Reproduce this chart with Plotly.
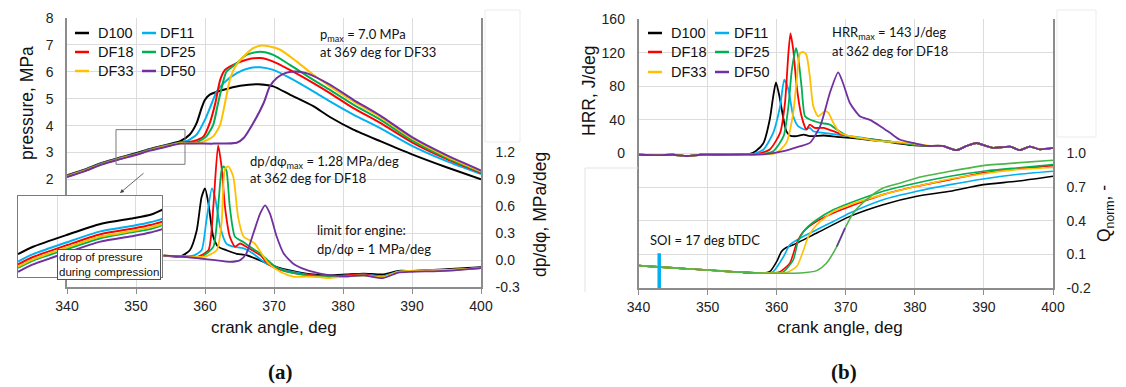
import plotly.graph_objects as go

# The page body has an 8 px default margin, so the figure is sized to fit the
# 1126x387 window minus that offset, and pixel positions are mapped accordingly.
W, H = 1126, 387
OFF = 8
FW, FH = W - OFF, H - OFF
def X(px): return (px - OFF) / FW
def Y(py): return 1 - (py - OFF) / FH

NAMES = ["D100", "DF11", "DF18", "DF25", "DF33", "DF50"]
COLORS = ["#000000", "#00B0F0", "#FF0000", "#00B050", "#FFC000", "#7030A0"]
Q50_GREEN = "#4FB548"
SOI_DEG_BTDC = 17

# ---------------- pressure, MPa (left panel, left axis) ----------------
P_D100_X = [340, 342.5, 345, 347.5, 350, 352, 354.5, 356.4, 357.8, 358.8, 359.5, 360.0, 360.7, 362.7, 365.1, 367.7, 369.9, 372.3, 375.7, 378.1, 381.5, 385.4, 390, 395, 400]
P_D100_Y = [2.15, 2.36, 2.61, 2.80, 2.97, 3.13, 3.29, 3.42, 3.67, 4.10, 4.65, 4.96, 5.15, 5.33, 5.48, 5.54, 5.46, 5.15, 4.72, 4.32, 3.85, 3.42, 2.93, 2.45, 2.00]
P_DF11_X = [340, 342.5, 345, 347.5, 350, 352, 354.5, 356.5, 357.5, 358.8, 360.0, 361.0, 361.7, 362.7, 364.6, 366.5, 368.0, 369.9, 372.3, 375.7, 378.1, 381.5, 385.4, 390, 395, 400]
P_DF11_Y = [2.13, 2.34, 2.59, 2.78, 2.95, 3.11, 3.27, 3.38, 3.44, 3.67, 4.22, 4.84, 5.27, 5.58, 5.95, 6.14, 6.17, 6.07, 5.77, 5.27, 4.90, 4.41, 3.91, 3.25, 2.68, 2.20]
P_DF18_X = [340, 342.5, 345, 347.5, 350, 352, 354.5, 356.5, 358.3, 359.8, 360.7, 361.5, 362.2, 362.9, 364.1, 366.0, 368.0, 369.9, 372.3, 375.7, 378.1, 381.5, 385.4, 390, 395, 400]
P_DF18_Y = [2.12, 2.33, 2.58, 2.77, 2.94, 3.10, 3.26, 3.36, 3.42, 3.60, 4.10, 4.84, 5.70, 6.07, 6.26, 6.45, 6.51, 6.38, 6.07, 5.58, 5.21, 4.65, 4.10, 3.38, 2.76, 2.24]
P_DF25_X = [340, 342.5, 345, 347.5, 350, 352, 354.5, 356.5, 358.8, 360.2, 361.2, 361.9, 362.7, 363.1, 364.6, 366.0, 368.0, 369.9, 372.3, 375.7, 378.1, 381.5, 385.4, 390, 395, 400]
P_DF25_Y = [2.11, 2.32, 2.57, 2.76, 2.93, 3.09, 3.25, 3.35, 3.38, 3.60, 4.04, 4.84, 5.70, 6.00, 6.32, 6.63, 6.75, 6.63, 6.26, 5.70, 5.33, 4.78, 4.22, 3.45, 2.80, 2.27]
P_DF33_X = [340, 342.5, 345, 347.5, 350, 352, 354.5, 356.5, 359.3, 361.2, 362.2, 362.9, 363.6, 364.4, 365.6, 367.0, 368.2, 369.4, 370.9, 373.3, 375.7, 378.1, 381.5, 385.4, 390, 395, 400]
P_DF33_Y = [2.10, 2.31, 2.56, 2.75, 2.92, 3.08, 3.24, 3.34, 3.36, 3.60, 4.04, 4.84, 5.70, 6.20, 6.57, 6.88, 6.98, 6.94, 6.82, 6.38, 5.89, 5.46, 4.90, 4.32, 3.52, 2.85, 2.30]
P_DF50_X = [340, 342.5, 345, 347.5, 350, 352, 354.5, 356.4, 361.2, 364.6, 365.6, 367.0, 368.5, 369.4, 370.4, 371.6, 373.0, 374.7, 378.1, 381.5, 385.4, 390, 395, 400]
P_DF50_Y = [2.09, 2.30, 2.55, 2.74, 2.91, 3.07, 3.22, 3.33, 3.33, 3.36, 3.54, 4.10, 4.84, 5.46, 5.77, 5.95, 6.01, 5.95, 5.52, 4.96, 4.37, 3.57, 2.90, 2.33]

# ---------------- dp/dphi, MPa/deg (left panel, right axis) ----------------
D_D100_X = [354, 356.4, 357.8, 358.8, 359.5, 360.0, 360.5, 361.2, 361.9, 363.1, 364.6, 366.0, 368.5, 370.9, 373.3, 375.7, 378.1, 380.5, 383.0, 385.8, 388, 390, 395, 400]
D_D100_Y = [0.05, 0.04, 0.11, 0.33, 0.70, 0.80, 0.63, 0.26, 0.15, 0.11, 0.07, 0.055, -0.02, -0.09, -0.13, -0.16, -0.17, -0.16, -0.15, -0.16, -0.12, -0.12, -0.10, -0.08]
D_DF11_X = [354, 356.5, 358.3, 359.5, 360.2, 361.0, 361.45, 362.2, 363.1, 364.1, 365.6, 367.0, 368.9, 371, 373.3, 375.7, 378.1, 380.5, 383, 385.8, 388, 390, 395, 400]
D_DF11_Y = [0.05, 0.04, 0.05, 0.11, 0.44, 0.80, 0.70, 0.37, 0.185, 0.15, 0.13, 0.07, -0.04, -0.10, -0.14, -0.17, -0.18, -0.17, -0.16, -0.18, -0.13, -0.12, -0.11, -0.09]
D_DF18_X = [354, 356.5, 359, 360.5, 361.2, 361.9, 362.4, 362.9, 363.6, 364.35, 365.1, 366.0, 368.0, 369.4, 371, 373.3, 375.7, 378.1, 380.5, 383, 385.8, 388, 390, 395, 400]
D_DF18_Y = [0.05, 0.04, 0.04, 0.11, 0.59, 1.28, 1.04, 0.59, 0.26, 0.15, 0.185, 0.148, 0.055, -0.056, -0.11, -0.15, -0.17, -0.19, -0.17, -0.16, -0.19, -0.13, -0.12, -0.11, -0.09]
D_DF25_X = [354, 356.5, 359.5, 361.2, 361.9, 362.4, 362.7, 363.1, 363.6, 364.35, 365.6, 366.5, 368.0, 369.9, 371.5, 373.3, 375.7, 378.1, 380.5, 383, 385.8, 388, 390, 395, 400]
D_DF25_Y = [0.05, 0.04, 0.04, 0.148, 0.59, 1.0, 1.044, 1.0, 0.59, 0.26, 0.20, 0.148, 0.074, -0.056, -0.12, -0.15, -0.18, -0.19, -0.18, -0.17, -0.19, -0.13, -0.12, -0.11, -0.09]
D_DF33_X = [354, 356.5, 360, 361.7, 362.4, 362.9, 363.4, 364.1, 364.8, 365.6, 366.5, 367.2, 368.2, 369.2, 370.9, 372.8, 374.7, 376.5, 378.1, 380.5, 383, 385.8, 388, 390, 395, 400]
D_DF33_Y = [0.05, 0.04, 0.04, 0.11, 0.41, 1.02, 1.044, 0.93, 0.48, 0.26, 0.22, 0.185, 0.074, -0.037, -0.13, -0.185, -0.185, -0.19, -0.20, -0.18, -0.17, -0.19, -0.13, -0.12, -0.11, -0.09]
D_DF50_X = [354, 356.5, 359.3, 361.5, 363.6, 365.1, 366.0, 367.0, 368.0, 368.7, 369.4, 370.4, 371.4, 372.8, 374.7, 376.7, 378.5, 380.5, 383, 385.8, 388, 390, 395, 400]
D_DF50_Y = [0.05, 0.04, 0.018, 0.0, -0.019, 0.0, 0.074, 0.296, 0.52, 0.61, 0.52, 0.26, 0.074, -0.04, -0.11, -0.15, -0.17, -0.18, -0.17, -0.20, -0.14, -0.13, -0.12, -0.09]

# ---------------- inset: drop of pressure during compression ----------------
INSET_X = [347.5, 348.46, 350.64, 352.76, 354.87, 355.96, 356.73]
INSET_D100 = [2.63, 2.76, 2.97, 3.16, 3.26, 3.32, 3.41]
INSET_DF11 = [2.50, 2.63, 2.84, 3.03, 3.13, 3.19, 3.25]
INSET_DF18 = [2.45, 2.58, 2.79, 2.98, 3.08, 3.14, 3.20]
INSET_DF25 = [2.39, 2.52, 2.72, 2.91, 3.02, 3.07, 3.14]
INSET_DF33 = [2.41, 2.54, 2.75, 2.94, 3.04, 3.10, 3.16]
INSET_DF50 = [2.32, 2.45, 2.66, 2.85, 2.95, 3.01, 3.07]

# ---------------- HRR, J/deg (right panel, left axis) ----------------
H_D100_X = [340, 343, 345, 347, 349, 352, 355, 356.1, 357.0, 358.1, 359.0, 359.5, 359.9, 360.4, 361.0, 361.4, 361.9, 362.9, 363.9, 364.8, 366.8, 368.7, 370.6, 373.0, 375.4, 377.5, 379.5, 381.7, 384, 386, 387.5, 388.9, 390.3, 391.3, 393.8, 395.2, 396.6, 398.1, 400]
H_D100_Y = [-1.5, -2, -1.5, -3, -1.5, -1.5, -1, -0.5, 3, 12.6, 40.4, 68, 84.7, 68, 40.4, 26.5, 21.4, 20.6, 22.5, 20.6, 21.4, 19.8, 18.6, 16.6, 14.6, 12, 10, 9, 9, 4, 9, 12.5, 9, 6.7, 8.2, 4, 8.2, 5, 6.7]
H_DF11_X = [340, 343, 345, 347, 349, 352, 355, 356.5, 358.1, 359.5, 360.5, 361.1, 361.7, 362.4, 363.1, 364.1, 364.8, 365.3, 366.8, 368.7, 370.6, 373.0, 375.4, 377.5, 379.5, 381.7, 384, 386, 387.5, 388.9, 390.3, 391.3, 393.8, 395.2, 396.6, 398.1, 400]
H_DF11_Y = [-1.5, -2, -1.5, -3, -1.5, -1.5, -1, -1, 4.8, 24.5, 56.2, 87.8, 76, 44.3, 32.5, 28.5, 30.5, 26.5, 24.5, 22.5, 20.6, 18, 15, 13, 11, 9, 9, 4, 9, 12.5, 9, 6.7, 8.2, 4, 8.2, 5, 6.7]
H_DF18_X = [340, 343, 345, 347, 349, 352, 355, 357, 359.0, 360.5, 361.2, 361.7, 362.0, 362.4, 362.9, 363.6, 364.3, 364.8, 365.5, 366.8, 368.2, 369.6, 371.6, 373.5, 375.4, 377.5, 379.5, 381.7, 384, 386, 387.5, 388.9, 390.3, 391.3, 393.8, 395.2, 396.6, 398.1, 400]
H_DF18_Y = [-1.5, -2, -1.5, -3, -1.5, -1.5, -1, -1, 4.8, 24.5, 60, 119.5, 143, 123.4, 79.9, 44.3, 28.5, 34.4, 30.5, 30.5, 26.5, 22.5, 18.6, 17, 15, 13, 11, 9, 9, 4, 9, 12.5, 9, 6.7, 8.2, 4, 8.2, 5, 6.7]
H_DF25_X = [340, 343, 345, 347, 349, 352, 355, 357.5, 359.5, 361.0, 361.7, 362.2, 362.8, 363.1, 363.6, 364.1, 364.8, 366.3, 367.7, 368.7, 370.1, 371.6, 373.5, 375.4, 377.5, 379.5, 381.7, 384, 386, 387.5, 388.9, 390.3, 391.3, 393.8, 395.2, 396.6, 398.1, 400]
H_DF25_Y = [-1.5, -2, -1.5, -3, -1.5, -1.5, -1, -1, 2.8, 20.6, 56.2, 99.7, 125.4, 115.5, 79.9, 44.3, 40.4, 36.4, 34.4, 28.5, 21.4, 18.6, 17, 15, 13, 11, 9, 9, 4, 9, 12.5, 9, 6.7, 8.2, 4, 8.2, 5, 6.7]
H_DF33_X = [340, 343, 345, 347, 349, 352, 355, 358, 360.0, 361.4, 362.4, 362.9, 363.4, 363.9, 364.3, 364.8, 365.3, 366.0, 367.0, 367.5, 368.2, 369.2, 370.6, 372.5, 374.5, 376.5, 378.5, 380.5, 382.5, 384, 386, 387.5, 388.9, 390.3, 391.3, 393.8, 395.2, 396.6, 398.1, 400]
H_DF33_Y = [-1.5, -2, -1.5, -3, -1.5, -1.5, -1, -1, 0.8, 12.6, 48.3, 87.8, 119.5, 120.7, 117.5, 91.8, 56.2, 44.3, 50.3, 48.3, 36.4, 24.5, 20.6, 18, 15, 14, 13, 11, 9, 9, 4, 9, 12.5, 9, 6.7, 8.2, 4, 8.2, 5, 6.7]
H_DF50_X = [340, 343, 345, 347, 349, 352, 355, 358, 361.0, 363.4, 364.8, 366.3, 367.7, 368.9, 369.6, 370.6, 372.05, 373.5, 375.0, 376.5, 377.8, 379.5, 381.7, 384, 386, 387.5, 388.9, 390.3, 391.3, 393.8, 395.2, 396.6, 398.1, 400]
H_DF50_Y = [-1.5, -2, -1.5, -3, -1.5, -1.5, -1, -1, 2.8, 8.7, 12.6, 32.5, 72, 96.5, 83.9, 60.1, 44.3, 40, 32.5, 24, 16.6, 13, 9, 9, 4, 9, 12.5, 9, 6.7, 8.2, 4, 8.2, 5, 6.7]

# ---------------- Q_norm, - (right panel, right axis) ----------------
Q_D100_X = [340, 345, 350, 355, 358, 359.0, 360.0, 360.7, 361.4, 362.4, 365.8, 370.6, 375.4, 380.3, 385.1, 389.9, 394.7, 400]
Q_D100_Y = [0.0, -0.02, -0.04, -0.06, -0.066, -0.054, 0.036, 0.125, 0.161, 0.185, 0.29, 0.439, 0.543, 0.618, 0.663, 0.722, 0.752, 0.797]
Q_DF11_X = [340, 345, 350, 355, 358.5, 359.5, 361.0, 361.9, 363.4, 365.8, 368.2, 370.6, 375.4, 380.3, 385.1, 389.9, 394.7, 400]
Q_DF11_Y = [0.0, -0.02, -0.04, -0.06, -0.068, -0.054, 0.08, 0.185, 0.245, 0.32, 0.394, 0.469, 0.588, 0.663, 0.722, 0.773, 0.812, 0.841]
Q_DF18_X = [340, 345, 350, 355, 359, 360.5, 361.9, 362.9, 363.9, 365.8, 368.2, 370.6, 375.4, 380.3, 385.1, 389.9, 394.7, 400]
Q_DF18_Y = [0.0, -0.02, -0.04, -0.06, -0.068, -0.054, 0.021, 0.2, 0.305, 0.394, 0.469, 0.528, 0.633, 0.707, 0.767, 0.827, 0.862, 0.892]
Q_DF25_X = [340, 345, 350, 355, 359.5, 361.0, 362.4, 363.1, 364.1, 365.8, 368.2, 370.6, 375.4, 380.3, 385.1, 389.9, 394.7, 400]
Q_DF25_Y = [0.0, -0.02, -0.04, -0.06, -0.068, -0.054, 0.051, 0.215, 0.32, 0.409, 0.498, 0.558, 0.663, 0.737, 0.797, 0.842, 0.871, 0.901]
Q_DF33_X = [340, 345, 350, 355, 360, 361.4, 362.9, 363.9, 364.6, 365.8, 368.2, 370.6, 375.4, 380.3, 385.1, 389.9, 394.7, 400]
Q_DF33_Y = [0.0, -0.02, -0.04, -0.06, -0.066, -0.063, -0.009, 0.14, 0.26, 0.364, 0.483, 0.543, 0.633, 0.707, 0.773, 0.82, 0.856, 0.875]
Q_DF50_X = [340, 345, 350, 355, 360, 363.4, 365.8, 367.2, 368.7, 369.9, 371.1, 373.0, 375.4, 377.9, 380.3, 385.1, 389.9, 394.7, 400]
Q_DF50_Y = [0.0, -0.02, -0.04, -0.06, -0.068, -0.066, -0.045, 0.021, 0.17, 0.334, 0.469, 0.588, 0.692, 0.737, 0.782, 0.841, 0.892, 0.916, 0.94]

X_TICKS = [340, 350, 360, 370, 380, 390, 400]
P_TICKS = [2, 3, 4, 5, 6, 7, 8]
D_TICKS = [-0.3, 0.0, 0.3, 0.6, 0.9, 1.2]
H_TICKS = [0, 40, 80, 120, 160]
Q_TICKS = [-0.2, 0.1, 0.4, 0.7, 1.0]

PRESS = [(P_D100_X, P_D100_Y), (P_DF11_X, P_DF11_Y), (P_DF18_X, P_DF18_Y),
         (P_DF25_X, P_DF25_Y), (P_DF33_X, P_DF33_Y), (P_DF50_X, P_DF50_Y)]
DPDF = [(D_D100_X, D_D100_Y), (D_DF11_X, D_DF11_Y), (D_DF18_X, D_DF18_Y),
        (D_DF25_X, D_DF25_Y), (D_DF33_X, D_DF33_Y), (D_DF50_X, D_DF50_Y)]
INSET = [INSET_D100, INSET_DF11, INSET_DF18, INSET_DF25, INSET_DF33, INSET_DF50]
HRR = [(H_D100_X, H_D100_Y), (H_DF11_X, H_DF11_Y), (H_DF18_X, H_DF18_Y),
       (H_DF25_X, H_DF25_Y), (H_DF33_X, H_DF33_Y), (H_DF50_X, H_DF50_Y)]
QN = [(Q_D100_X, Q_D100_Y), (Q_DF11_X, Q_DF11_Y), (Q_DF18_X, Q_DF18_Y),
      (Q_DF25_X, Q_DF25_Y), (Q_DF33_X, Q_DF33_Y), (Q_DF50_X, Q_DF50_Y)]

ARIAL = "Liberation Sans"
CALIBRI = "Lato"
GRID = "#dcdcdc"
AXC = "#8c8c8c"

fig = go.Figure()
SPL = dict(shape="spline", smoothing=0.6)

def add(x, y, color, xa, ya, width=2.0):
    fig.add_trace(go.Scatter(x=x, y=y, mode="lines", showlegend=False, hoverinfo="skip",
                             line=dict(color=color, width=width, **SPL), xaxis=xa, yaxis=ya))

# left panel
for (x, y), c in zip(DPDF, COLORS):
    add(x, y, c, "x", "y2", 1.8)
for (x, y), c in zip(PRESS, COLORS):
    add(x, y, c, "x", "y", 2.0)
# right panel
for (x, y), c in zip(HRR, COLORS):
    add(x, y, c, "x2", "y3", 1.8)
for i, ((x, y), c) in enumerate(zip(QN, COLORS)):
    if NAMES[i] == "DF50":
        add(x, y, Q50_GREEN, "x2", "y4", 1.6)
        seg = [(a, b) for a, b in zip(x, y) if 368.5 <= a <= 370.0]
        add([s[0] for s in seg], [s[1] for s in seg], c, "x2", "y4", 1.6)
    else:
        add(x, y, c, "x2", "y4", 1.6)
# inset
for yv, c in zip(INSET, COLORS):
    add(INSET_X, yv, c, "x3", "y5", 2.0)

tickfont = dict(family=ARIAL, size=14, color="#222222")
xcommon = dict(range=[340, 400], tickvals=X_TICKS, showgrid=True, gridcolor=GRID, gridwidth=1,
               showline=True, linecolor=AXC, linewidth=1.5, ticks="outside", ticklen=5,
               tickcolor=AXC, tickfont=tickfont, zeroline=False, automargin=False)
ycommon = dict(showgrid=True, gridcolor=GRID, zeroline=False, showline=True, linecolor=AXC,
               linewidth=1.5, ticks="outside", tickcolor="rgba(0,0,0,0)", tickfont=tickfont,
               automargin=False)

fig.update_layout(
    template="none",
    width=FW, height=FH, margin=dict(l=0, r=0, t=0, b=0, pad=0, autoexpand=False),
    paper_bgcolor="white", plot_bgcolor="white", hovermode=False, showlegend=False,
    xaxis=dict(domain=[X(67), X(481)], anchor="y", **xcommon),
    yaxis=dict(domain=[Y(287), Y(18)], anchor="x", range=[-2, 8], tickvals=P_TICKS,
               ticklen=9, **ycommon),
    yaxis2=dict(overlaying="y", side="right", anchor="x", range=[-0.3, 2.7], tickvals=D_TICKS,
                ticktext=["-0.3", "0.0", "0.3", "0.6", "0.9", "1.2"], ticklen=10, **ycommon),
    xaxis2=dict(domain=[X(638.5), X(1053)], anchor="y3", **xcommon),
    yaxis3=dict(domain=[Y(288), Y(19)], anchor="x2", range=[-160, 160], tickvals=H_TICKS,
                ticklen=9, **ycommon),
    yaxis4=dict(overlaying="y3", side="right", anchor="x2", range=[-0.2, 2.2], tickvals=Q_TICKS,
                ticktext=["-0.2", "0.1", "0.4", "0.7", "1.0"], ticklen=9, **ycommon),
    xaxis3=dict(domain=[X(18), X(162)], anchor="y5", range=[347.5, 356.7], tickvals=[350, 355],
                showticklabels=False, showgrid=True, gridcolor=GRID, zeroline=False,
                showline=True, mirror=True, linecolor="#7a7a7a", linewidth=1, ticks="",
                automargin=False),
    yaxis5=dict(domain=[Y(277), Y(196)], anchor="x3", range=[2.23, 3.65], showticklabels=False,
                showgrid=False, zeroline=False, showline=True, mirror=True, linecolor="#7a7a7a",
                linewidth=1, ticks="", automargin=False),
)

shapes = []
anns = []

def ptext(txt, px, py, size=13, family=CALIBRI, xanchor="left", yanchor="middle", **kw):
    anns.append(dict(text=txt, x=X(px), y=Y(py), xref="paper", yref="paper", showarrow=False,
                     xanchor=xanchor, yanchor=yanchor, font=dict(family=family, size=size, color="#111111"), **kw))

# custom two-column legends
for i, (nm, c) in enumerate(zip(NAMES, COLORS)):
    row, col = divmod(i, 2)
    for lx0, tx, rows in (([75, 142][col], [96, 158][col], [33, 52, 71]),
                          ([648, 715][col], [669, 732][col], [33, 52, 72])):
        py = rows[row]
        shapes.append(dict(type="line", xref="paper", yref="paper", x0=X(lx0), x1=X(lx0 + 14),
                           y0=Y(py), y1=Y(py), line=dict(color=c, width=2.5)))
        ptext(nm, tx, py, size=14.5, family=ARIAL)

# annotations, left panel
ptext("p<sub>max</sub> = 7.0 MPa", 318, 35)
ptext("at 369 deg for DF33", 318, 52)
ptext("dp/dφ<sub>max</sub> = 1.28 MPa/deg", 248, 162)
ptext("at 362 deg for DF18", 248, 178)
ptext("limit for engine:", 315, 230)
ptext("dp/dφ = 1 MPa/deg", 315, 249)
anns.append(dict(text="drop of pressure<br>during compression", x=X(57), y=Y(249), xref="paper",
                 yref="paper", showarrow=False, xanchor="left", yanchor="top", align="left",
                 font=dict(family=ARIAL, size=11.5, color="#111111"), bgcolor="white",
                 bordercolor="#555555", borderwidth=1, borderpad=1))
anns.append(dict(text="", x=X(120), y=Y(193), xref="paper", yref="paper", showarrow=True,
                 ax=25, ay=-21, arrowhead=2, arrowsize=1, arrowwidth=0.8, arrowcolor="#404040"))
# right panel
ptext("HRR<sub>max</sub> = 143 J/deg", 830, 33)
ptext("at 362 deg for DF18", 830, 51)
ptext("SOI = 17 deg bTDC", 648, 240)

# axis titles
ptext("pressure, MPa", 27, 103, size=17.5, family=ARIAL, xanchor="center", textangle=-90)
ptext("dp/dφ, MPa/deg", 540, 215, size=17.5, family=ARIAL, xanchor="center", textangle=-90)
ptext("crank angle, deg", 274, 327, size=17, family=ARIAL, xanchor="center")
ptext("HRR, J/deg", 589, 91, size=17.5, family=ARIAL, xanchor="center", textangle=-90)
ptext("Q<sub>norm</sub>, -", 1105, 214, size=17.5, family=ARIAL, xanchor="center", textangle=-90)
ptext("crank angle, deg", 840, 327, size=17, family=ARIAL, xanchor="center")
ptext("<b>(a)</b>", 280, 372, size=21, family="Liberation Serif", xanchor="center")
ptext("<b>(b)</b>", 844, 372, size=21, family="Liberation Serif", xanchor="center")

# zoom rectangle on the pressure curves
shapes.append(dict(type="rect", xref="x", yref="y", x0=347.1, x1=357.1, y0=2.56, y1=3.85,
                   line=dict(color="#7a7a7a", width=1)))
# SOI marker
shapes.append(dict(type="line", xref="x2", yref="y4", x0=360 - SOI_DEG_BTDC, x1=360 - SOI_DEG_BTDC,
                   y0=-0.2, y1=0.11, line=dict(color="#00B0F0", width=3.5)))
# blank frames next to the plots
for (x0, y0, x1, y1) in [(485, 10, 520, 142), (1057, 10, 1096, 137)]:
    shapes.append(dict(type="rect", xref="paper", yref="paper", x0=X(x0), x1=X(x1), y0=Y(y1), y1=Y(y0),
                       line=dict(color="#ebebeb", width=1)))
shapes.append(dict(type="line", xref="paper", yref="paper", x0=X(585), x1=X(638), y0=Y(168), y1=Y(168),
                   line=dict(color="#e3e3e3", width=1)))
shapes.append(dict(type="line", xref="paper", yref="paper", x0=X(585), x1=X(585), y0=Y(168), y1=Y(292),
                   line=dict(color="#e3e3e3", width=1)))

fig.update_layout(shapes=shapes, annotations=anns)
fig.write_html("out.html")
